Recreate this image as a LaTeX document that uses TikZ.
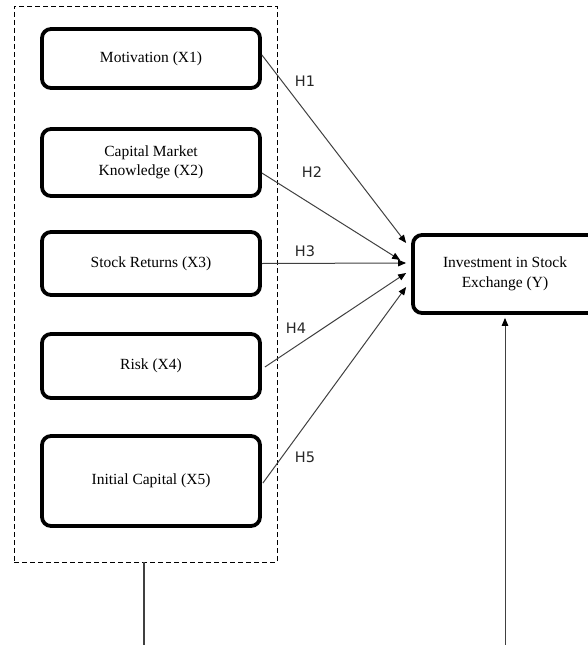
\documentclass[tikz,border=0pt]{standalone}
\usepackage{fontspec}
\setmainfont{Liberation Serif}
\newfontfamily\labelfont{DejaVu Sans}
\usetikzlibrary{arrows.meta}
\tikzset{
  varbox/.style={draw=black, line width=3.8pt, rounded corners=9pt, fill=white,
    minimum width=218pt, align=center, inner sep=2pt,
    font=\fontsize{15.5}{19.5}\selectfont},
  groupbox/.style={draw=black, line width=0.9pt, dash pattern=on 5pt off 3pt,
    minimum width=263pt, minimum height=556pt, inner sep=0pt},
  link/.style={draw=black!75, line width=1pt,
    -{Triangle[length=8pt,width=6.5pt,color=black]}},
  plain/.style={draw=black!75, line width=1.2pt},
  hlabel/.style={font=\labelfont\fontsize{14.5}{16}\selectfont, text=black!85, inner sep=0pt}
}
\begin{document}
\begin{tikzpicture}[x=1pt,y=-1pt]
\useasboundingbox (0,0) rectangle (587,645);
\node[groupbox] (grp) at (145.5,284) {};
\node[varbox, minimum height=59pt] (b1) at (151,58.5) {Motivation (X1)};
\node[varbox, minimum height=67pt] (b2) at (151,162.5) {Capital Market\\Knowledge (X2)};
\node[varbox, minimum height=63pt] (b3) at (151,263.5) {Stock Returns (X3)};
\node[varbox, minimum height=64pt] (b4) at (151,366) {Risk (X4)};
\node[varbox, minimum height=90pt] (b5) at (151,481) {Initial Capital (X5)};
\node[varbox, minimum width=184pt, minimum height=78pt] (y) at (505,274) {Investment in Stock\\Exchange (Y)};
\coordinate (c1) at (144,645);
\coordinate (c2) at (505,645);
\draw[link] ([yshift=3.5pt]b1.east) -- ([xshift=-5pt,yshift=31pt]y.west);
\draw[link] ([yshift=-10.5pt]b2.east) -- ([xshift=-11pt,yshift=14pt]y.west);
\draw[link] (b3.east) -- ([xshift=-5pt,yshift=11pt]y.west);
\draw[link] ([xshift=3pt,yshift=-1pt]b4.east) -- ([xshift=-5pt,yshift=1pt]y.west);
\draw[link] ([xshift=1pt,yshift=-2pt]b5.east) -- ([xshift=-5pt,yshift=-13pt]y.west);
\node[hlabel] (h1) at (305,81) {H1};
\node[hlabel] (h2) at (312,172) {H2};
\node[hlabel] (h3) at (305,251) {H3};
\node[hlabel] (h4) at (296,328) {H4};
\node[hlabel] (h5) at (305,457) {H5};
\draw[plain] (grp.south -| c1) -- (c1);
\draw[link] (c2) -- ([yshift=-3pt]y.south);
\end{tikzpicture}
\end{document}
